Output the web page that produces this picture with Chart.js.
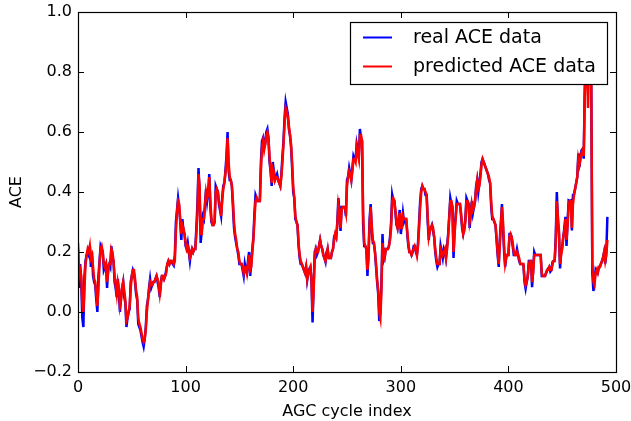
<!DOCTYPE html>
<html>
<head>
<meta charset="utf-8">
<script src="https://cdn.jsdelivr.net/npm/chart.js"></script>
<style>
  html, body { margin: 0; padding: 0; background: #fff; }
  canvas { display: block; }
</style>
</head>
<body>
<canvas id="aceChart" width="631" height="421"></canvas>
<script>
// ACE per AGC cycle, measured vs. model output
const realAce = [
  0.21, 0.08, 0.16, 0.10, -0.02, -0.05, 0.12, 0.17, 0.19, 0.20,
  0.19, 0.22, 0.15, 0.20, 0.12, 0.10, 0.09, 0.04, 0.00, 0.12,
  0.17, 0.22, 0.21, 0.20, 0.14, 0.15, 0.16, 0.08, 0.15, 0.16,
  0.15, 0.22, 0.18, 0.17, 0.10, 0.08, 0.05, 0.11, 0.06, 0.00,
  0.05, 0.08, 0.10, 0.05, 0.03, -0.05, -0.02, 0.00, 0.01, 0.10,
  0.12, 0.14, 0.13, 0.10, 0.06, 0.04, -0.04, -0.05, -0.06, -0.08,
  -0.10, -0.115, -0.09, -0.05, 0.02, 0.04, 0.08, 0.11, 0.08, 0.09,
  0.10, 0.10, 0.11, 0.12, 0.10, 0.08, 0.05, 0.10, 0.12, 0.12,
  0.11, 0.12, 0.14, 0.16, 0.17, 0.16, 0.17, 0.17, 0.16, 0.155,
  0.19, 0.30, 0.34, 0.38, 0.35, 0.30, 0.24, 0.31, 0.27, 0.26,
  0.22, 0.21, 0.23, 0.20, 0.17, 0.20, 0.21, 0.20, 0.21, 0.21,
  0.28, 0.36, 0.48, 0.40, 0.23, 0.27, 0.32, 0.31, 0.36, 0.41,
  0.37, 0.40, 0.46, 0.35, 0.30, 0.29, 0.29, 0.30, 0.42, 0.41,
  0.40, 0.36, 0.34, 0.32, 0.38, 0.42, 0.43, 0.47, 0.52, 0.60,
  0.47, 0.44, 0.44, 0.42, 0.35, 0.28, 0.25, 0.23, 0.21, 0.19,
  0.16, 0.16, 0.16, 0.14, 0.12, 0.16, 0.14, 0.13, 0.17, 0.20,
  0.12, 0.16, 0.21, 0.25, 0.33, 0.39, 0.38, 0.37, 0.37, 0.37,
  0.50, 0.57, 0.58, 0.55, 0.56, 0.60, 0.61, 0.58, 0.50, 0.47,
  0.42, 0.50, 0.47, 0.44, 0.45, 0.46, 0.44, 0.43, 0.42, 0.46,
  0.52, 0.57, 0.65, 0.70, 0.68, 0.66, 0.61, 0.59, 0.55, 0.48,
  0.40, 0.38, 0.31, 0.30, 0.29, 0.22, 0.18, 0.16, 0.16, 0.15,
  0.14, 0.13, 0.15, 0.106, 0.13, 0.144, 0.15, 0.10, -0.035, 0.09,
  0.20, 0.21, 0.19, 0.20, 0.22, 0.24, 0.22, 0.21, 0.19, 0.18,
  0.167, 0.20, 0.21, 0.18, 0.18, 0.18, 0.20, 0.21, 0.25, 0.26,
  0.25, 0.30, 0.38, 0.33, 0.27, 0.35, 0.35, 0.35, 0.35, 0.32,
  0.44, 0.45, 0.48, 0.46, 0.44, 0.48, 0.52, 0.51, 0.51, 0.56,
  0.54, 0.52, 0.61, 0.58, 0.57, 0.29, 0.22, 0.22, 0.21, 0.12,
  0.20, 0.31, 0.36, 0.27, 0.23, 0.23, 0.20, 0.15, 0.10, 0.06,
  -0.03, 0.00, 0.10, 0.26, 0.17, 0.18, 0.21, 0.21, 0.21, 0.22,
  0.25, 0.30, 0.39, 0.37, 0.37, 0.33, 0.29, 0.28, 0.31, 0.34,
  0.26, 0.29, 0.33, 0.30, 0.31, 0.31, 0.26, 0.22, 0.20, 0.20,
  0.19, 0.20, 0.22, 0.22, 0.20, 0.19, 0.23, 0.30, 0.37, 0.41,
  0.42, 0.41, 0.41, 0.39, 0.39, 0.30, 0.24, 0.28, 0.28, 0.29,
  0.27, 0.25, 0.20, 0.17, 0.15, 0.16, 0.16, 0.22, 0.20, 0.18,
  0.21, 0.20, 0.18, 0.22, 0.26, 0.32, 0.38, 0.36, 0.35, 0.18,
  0.28, 0.32, 0.37, 0.36, 0.36, 0.36, 0.32, 0.28, 0.26, 0.28,
  0.31, 0.38, 0.37, 0.36, 0.28, 0.33, 0.37, 0.33, 0.35, 0.37,
  0.42, 0.44, 0.40, 0.43, 0.46, 0.50, 0.51, 0.50, 0.49, 0.48,
  0.47, 0.46, 0.44, 0.43, 0.35, 0.31, 0.31, 0.30, 0.29, 0.24,
  0.19, 0.15, 0.24, 0.30, 0.36, 0.28, 0.20, 0.15, 0.19, 0.19,
  0.19, 0.26, 0.26, 0.25, 0.22, 0.19, 0.19, 0.19, 0.21, 0.19,
  0.17, 0.16, 0.16, 0.16, 0.156, 0.10, 0.078, 0.10, 0.12, 0.17,
  0.17, 0.17, 0.083, 0.14, 0.20, 0.19, 0.19, 0.19, 0.19, 0.19,
  0.19, 0.12, 0.12, 0.12, 0.12, 0.13, 0.14, 0.145, 0.15, 0.135,
  0.14, 0.167, 0.17, 0.172, 0.25, 0.40, 0.30, 0.26, 0.145, 0.20,
  0.217, 0.25, 0.28, 0.317, 0.22, 0.30, 0.372, 0.37, 0.372, 0.272,
  0.39, 0.394, 0.411, 0.43, 0.45, 0.528, 0.483, 0.52, 0.539, 0.544,
  0.511, 0.756, 0.85, 0.87, 0.88, 0.86, 0.90, 0.75, 0.13, 0.07,
  0.10, 0.139, 0.13, 0.128, 0.15, 0.15, 0.161, 0.17, 0.183, 0.20,
  0.161, 0.20, 0.317
];

const predictedAce = [
  0.23, 0.12, 0.14, 0.12, 0.03, 0.00, 0.08, 0.16, 0.19, 0.21,
  0.20, 0.22, 0.18, 0.19, 0.15, 0.11, 0.10, 0.06, 0.02, 0.08,
  0.16, 0.21, 0.22, 0.20, 0.16, 0.15, 0.16, 0.10, 0.13, 0.16,
  0.16, 0.21, 0.20, 0.17, 0.12, 0.09, 0.06, 0.10, 0.08, 0.02,
  0.04, 0.08, 0.10, 0.07, 0.04, -0.03, -0.02, 0.00, 0.02, 0.08,
  0.12, 0.14, 0.14, 0.11, 0.07, 0.05, -0.02, -0.04, -0.05, -0.07,
  -0.09, -0.10, -0.09, -0.06, 0.00, 0.04, 0.07, 0.10, 0.09, 0.09,
  0.10, 0.10, 0.11, 0.12, 0.11, 0.09, 0.06, 0.09, 0.12, 0.12,
  0.11, 0.12, 0.13, 0.16, 0.17, 0.16, 0.17, 0.17, 0.17, 0.16,
  0.17, 0.27, 0.33, 0.37, 0.36, 0.31, 0.26, 0.29, 0.28, 0.26,
  0.23, 0.21, 0.22, 0.21, 0.18, 0.19, 0.21, 0.20, 0.21, 0.21,
  0.26, 0.33, 0.46, 0.42, 0.26, 0.26, 0.31, 0.31, 0.35, 0.40,
  0.38, 0.39, 0.45, 0.37, 0.31, 0.29, 0.29, 0.30, 0.40, 0.41,
  0.40, 0.37, 0.35, 0.32, 0.37, 0.41, 0.43, 0.46, 0.50, 0.58,
  0.50, 0.45, 0.44, 0.42, 0.37, 0.30, 0.26, 0.24, 0.21, 0.20,
  0.17, 0.16, 0.16, 0.15, 0.13, 0.15, 0.15, 0.13, 0.16, 0.19,
  0.14, 0.15, 0.20, 0.24, 0.31, 0.37, 0.38, 0.37, 0.37, 0.37,
  0.47, 0.55, 0.57, 0.54, 0.56, 0.59, 0.60, 0.58, 0.52, 0.47,
  0.43, 0.48, 0.47, 0.44, 0.45, 0.45, 0.44, 0.43, 0.42, 0.45,
  0.50, 0.56, 0.63, 0.68, 0.67, 0.65, 0.62, 0.59, 0.56, 0.50,
  0.42, 0.38, 0.32, 0.30, 0.29, 0.23, 0.19, 0.17, 0.16, 0.15,
  0.14, 0.13, 0.15, 0.11, 0.13, 0.14, 0.15, 0.11, 0.00, 0.07,
  0.18, 0.21, 0.20, 0.20, 0.22, 0.24, 0.22, 0.21, 0.19, 0.18,
  0.17, 0.19, 0.21, 0.18, 0.18, 0.18, 0.20, 0.21, 0.24, 0.26,
  0.25, 0.29, 0.36, 0.34, 0.28, 0.34, 0.35, 0.35, 0.35, 0.33,
  0.42, 0.45, 0.47, 0.46, 0.44, 0.47, 0.51, 0.51, 0.50, 0.55,
  0.53, 0.51, 0.59, 0.59, 0.57, 0.33, 0.23, 0.22, 0.21, 0.14,
  0.18, 0.29, 0.35, 0.29, 0.24, 0.23, 0.20, 0.16, 0.11, 0.07,
  0.00, -0.02, 0.07, 0.23, 0.19, 0.18, 0.21, 0.21, 0.21, 0.22,
  0.24, 0.28, 0.37, 0.38, 0.37, 0.34, 0.30, 0.28, 0.30, 0.33,
  0.28, 0.28, 0.32, 0.31, 0.31, 0.31, 0.27, 0.23, 0.20, 0.20,
  0.19, 0.20, 0.21, 0.22, 0.21, 0.19, 0.22, 0.28, 0.35, 0.40,
  0.42, 0.41, 0.41, 0.40, 0.39, 0.32, 0.25, 0.27, 0.28, 0.29,
  0.28, 0.25, 0.21, 0.18, 0.16, 0.16, 0.16, 0.21, 0.20, 0.19,
  0.20, 0.21, 0.18, 0.21, 0.25, 0.31, 0.37, 0.37, 0.35, 0.20,
  0.26, 0.31, 0.36, 0.36, 0.36, 0.36, 0.33, 0.29, 0.26, 0.27,
  0.30, 0.37, 0.37, 0.36, 0.30, 0.32, 0.36, 0.34, 0.35, 0.37,
  0.41, 0.44, 0.41, 0.42, 0.45, 0.49, 0.51, 0.50, 0.49, 0.48,
  0.47, 0.46, 0.45, 0.43, 0.37, 0.32, 0.31, 0.30, 0.29, 0.25,
  0.20, 0.16, 0.22, 0.29, 0.35, 0.30, 0.22, 0.16, 0.18, 0.19,
  0.19, 0.25, 0.26, 0.25, 0.23, 0.20, 0.19, 0.19, 0.20, 0.19,
  0.18, 0.16, 0.16, 0.16, 0.16, 0.11, 0.09, 0.10, 0.12, 0.16,
  0.17, 0.17, 0.10, 0.13, 0.19, 0.19, 0.19, 0.19, 0.19, 0.19,
  0.19, 0.13, 0.12, 0.12, 0.12, 0.13, 0.14, 0.14, 0.15, 0.14,
  0.14, 0.16, 0.17, 0.17, 0.23, 0.37, 0.32, 0.27, 0.16, 0.19,
  0.21, 0.25, 0.27, 0.31, 0.24, 0.29, 0.36, 0.37, 0.37, 0.28,
  0.36, 0.39, 0.41, 0.43, 0.45, 0.51, 0.49, 0.51, 0.53, 0.54,
  0.52, 0.72, 0.83, 0.86, 0.68, 0.84, 0.88, 0.78, 0.16, 0.10,
  0.09, 0.13, 0.14, 0.13, 0.15, 0.15, 0.16, 0.17, 0.18, 0.20,
  0.17, 0.19, 0.24
];

const xTicks = [0, 100, 200, 300, 400, 500];
const yTicks = [-0.2, 0.0, 0.2, 0.4, 0.6, 0.8, 1.0];
const seriesNames = ['real ACE data', 'predicted ACE data'];
const seriesColors = ['#0000ff', '#ff0000'];

const toPoints = arr => arr.map((v, i) => ({ x: i, y: v }));
const fmt = v => (v < 0 ? '\u2212' : '') + Math.abs(v).toFixed(1);

Chart.defaults.font.family = 'DejaVu Sans';
Chart.defaults.font.size = 16;
Chart.defaults.color = '#000';

const TICK_LEN = 6;

// box, inward ticks on all four sides and the legend on top of the lines
const frameAndLegend = {
  id: 'frameAndLegend',
  afterDatasetsDraw(chart) {
    const { ctx, chartArea: a, scales: { x, y } } = chart;
    ctx.save();
    ctx.strokeStyle = '#000';
    ctx.lineWidth = 1;
    ctx.beginPath();
    xTicks.forEach(v => {
      const px = Math.round(x.getPixelForValue(v)) + 0.5;
      ctx.moveTo(px, a.bottom); ctx.lineTo(px, a.bottom - TICK_LEN);
      ctx.moveTo(px, a.top); ctx.lineTo(px, a.top + TICK_LEN);
    });
    yTicks.forEach(v => {
      const py = Math.round(y.getPixelForValue(v)) + 0.5;
      ctx.moveTo(a.left, py); ctx.lineTo(a.left + TICK_LEN, py);
      ctx.moveTo(a.right, py); ctx.lineTo(a.right - TICK_LEN, py);
    });
    ctx.stroke();
    ctx.lineWidth = 1.2;
    ctx.strokeRect(Math.round(a.left) + 0.5, Math.round(a.top) + 0.5,
      Math.round(a.right - a.left), Math.round(a.bottom - a.top));

    // legend
    const box = { x: 350.5, y: 22.5, w: 257, h: 62 };
    ctx.fillStyle = '#fff';
    ctx.fillRect(box.x, box.y, box.w, box.h);
    ctx.lineWidth = 1.2;
    ctx.strokeRect(box.x, box.y, box.w, box.h);
    ctx.font = '19px "DejaVu Sans"';
    ctx.textBaseline = 'middle';
    ctx.textAlign = 'left';
    seriesNames.forEach((name, i) => {
      const ly = 37.5 + i * 29;
      ctx.strokeStyle = seriesColors[i];
      ctx.lineWidth = 2;
      ctx.beginPath();
      ctx.moveTo(363, ly);
      ctx.lineTo(392, ly);
      ctx.stroke();
      ctx.fillStyle = '#000';
      ctx.fillText(name, 413, ly + 1);
    });
    ctx.restore();
  }
};

new Chart(document.getElementById('aceChart'), {
  type: 'line',
  data: {
    datasets: [
      {
        label: seriesNames[0],
        data: toPoints(realAce),
        borderColor: seriesColors[0],
        borderWidth: 2.5,
        pointRadius: 0,
        tension: 0,
        order: 2
      },
      {
        label: seriesNames[1],
        data: toPoints(predictedAce),
        borderColor: seriesColors[1],
        borderWidth: 2.5,
        pointRadius: 0,
        tension: 0,
        order: 1
      }
    ]
  },
  options: {
    responsive: false,
    devicePixelRatio: 1,
    animation: false,
    layout: { padding: { top: 12, right: 15, left: 0, bottom: 0 } },
    plugins: {
      legend: { display: false },
      tooltip: { enabled: false }
    },
    scales: {
      x: {
        type: 'linear',
        min: 0,
        max: 500,
        afterBuildTicks: s => { s.ticks = xTicks.map(v => ({ value: v })); },
        afterFit: s => { s.height = 49; s.paddingLeft = 0; s.paddingRight = 0; },
        ticks: { padding: 6, maxRotation: 0, callback: v => String(v) },
        grid: { display: false, drawTicks: false },
        border: { display: false },
        title: { display: true, text: 'AGC cycle index', padding: { top: 0, bottom: 0 } }
      },
      y: {
        min: -0.2,
        max: 1.0,
        afterBuildTicks: s => { s.ticks = yTicks.map(v => ({ value: v })); },
        afterFit: s => { s.width = 78; s.paddingTop = 0; s.paddingBottom = 0; },
        ticks: { padding: 6, callback: v => fmt(v) },
        grid: { display: false, drawTicks: false },
        border: { display: false },
        title: { display: true, text: 'ACE', padding: { top: 7, bottom: 0 } }
      }
    }
  },
  plugins: [frameAndLegend]
});
</script>
</body>
</html>
